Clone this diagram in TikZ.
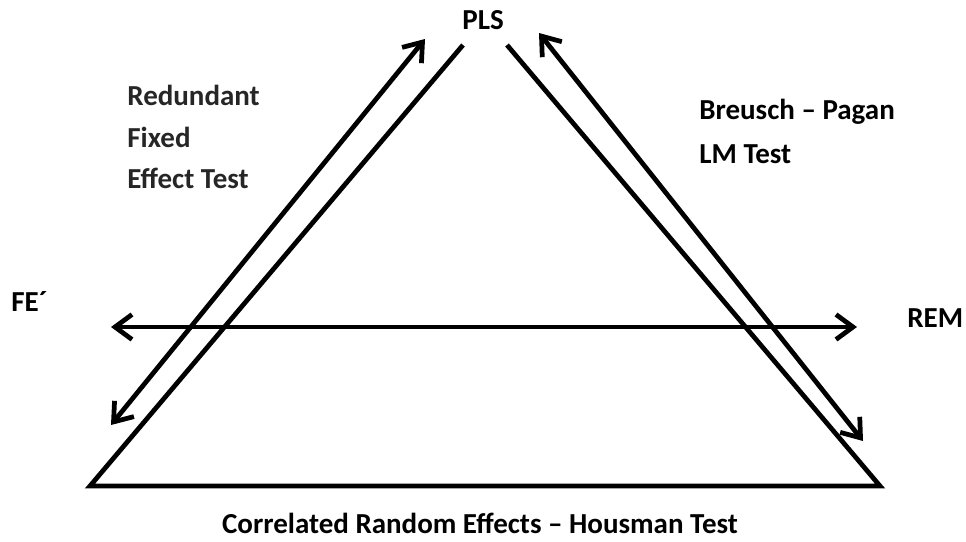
\documentclass[tikz,border=0pt]{standalone}
\usepackage{fontspec}
\setmainfont{Carlito}
\usetikzlibrary{arrows.meta}
\begin{document}
\begin{tikzpicture}[x=0.02cm,y=-0.02cm,
  side/.style={line width=0.095cm, line join=miter},
  dbl/.style={line width=0.095cm, {Straight Barb[length=0.34cm,width=0.5cm]}-{Straight Barb[length=0.34cm,width=0.5cm]}},
  lbl/.style={font=\bfseries\fontsize{16.5}{19}\selectfont, inner sep=0, anchor=base west},
  glbl/.style={lbl, text=black!85}]
\useasboundingbox (0,0) rectangle (966,541);
% triangle
\coordinate (tl) at (463,45);
\coordinate (bl) at (90,486);
\coordinate (br) at (880,486);
\coordinate (tr) at (507,45);
\draw[side] (tl) -- (bl) -- (br) -- (tr);
% arrows
\coordinate (la1) at (111,425);
\coordinate (la2) at (425,39);
\coordinate (ra1) at (539,33);
\coordinate (ra2) at (863,441);
\coordinate (ha1) at (111,327);
\coordinate (ha2) at (857,327);
\draw[dbl] (la1) -- (la2);
\draw[dbl] (ra1) -- (ra2);
\draw[dbl] (ha1) -- (ha2);
% labels
\node[lbl] (pls) at (462,30) {PLS};
\node[lbl] (fe) at (11,311) {FE´};
\node[lbl] (rem) at (907,327) {REM};
\node[glbl] (r1) at (127,105) {Redundant};
\node[glbl] (r2) at (127,147) {Fixed};
\node[glbl] (r3) at (127,188) {Effect Test};
\node[lbl] (b1) at (699,119) {Breusch – Pagan};
\node[lbl] (b2) at (699,163) {LM Test};
\node[lbl, anchor=base] (hm) at (480,533) {Correlated Random Effects – Housman Test};
\end{tikzpicture}
\end{document}
